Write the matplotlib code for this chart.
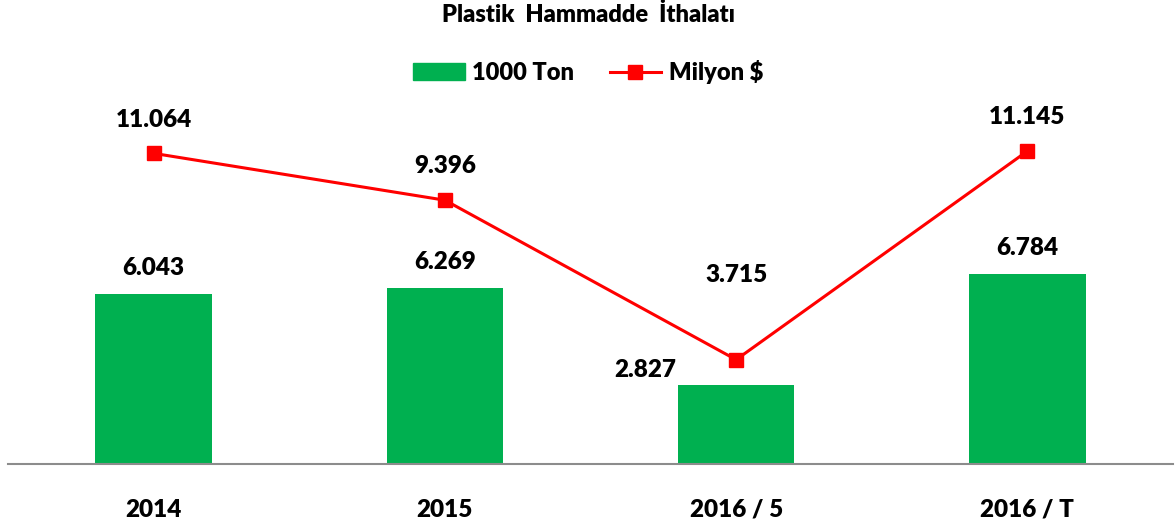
import numpy as np
import matplotlib.pyplot as plt
from matplotlib.patches import Patch
from matplotlib.lines import Line2D

plt.rcParams['font.family'] = ['Lato', 'DejaVu Sans']
W = 800

# DATA
categories = ['2014', '2015', '2016 / 5', '2016 / T']
ton_1000 = [6.043, 6.269, 2.827, 6.784]
milyon_usd = [11.064, 9.396, 3.715, 11.145]
ton_labels = ['6.043', '6.269', '2.827', '6.784']
usd_labels = ['11.064', '9.396', '3.715', '11.145']

GREEN = '#00B050'
RED = '#FF0000'

fig = plt.figure(figsize=(11.76, 5.29), dpi=100)
ax = fig.add_axes([8 / 1176, 1 - 464 / 529, 1165 / 1176, 365 / 529])

x = np.arange(len(categories))
ax.bar(x, ton_1000, width=0.4, color=GREEN, zorder=2)
ax.plot(x, milyon_usd, color=RED, lw=2.2, marker='s', markersize=10, zorder=3)

# bar labels (2016/5 sits to the left)
bar_offsets = [(0, 26), (0, 26), (-91, 15), (0, 26)]
for xi, v, lab, off in zip(x, ton_1000, ton_labels, bar_offsets):
    ax.annotate(lab, (xi, v), xytext=off, textcoords='offset pixels',
                ha='center', va='center', fontsize=17.5, fontweight=W)

line_offsets = [(0, 33), (0, 34), (0, 85), (0, 34)]
for xi, v, lab, off in zip(x, milyon_usd, usd_labels, line_offsets):
    ax.annotate(lab, (xi, v), xytext=off, textcoords='offset pixels',
                ha='center', va='center', fontsize=17.5, fontweight=W)

ax.set_xlim(-0.5, 3.5)
ax.set_ylim(0, 13)
ax.set_yticks([])
ax.set_xticks(x)
ax.set_xticklabels(categories, fontsize=17.5, fontweight=W)
ax.tick_params(axis='x', length=0, pad=25)
for s in ['top', 'right', 'left']:
    ax.spines[s].set_visible(False)
ax.spines['bottom'].set_color('#8c8c8c')
ax.spines['bottom'].set_linewidth(1.5)

fig.text(0.5, 1 - 15 / 529, 'Plastik  Hammadde  İthalatı', ha='center', va='center',
         fontsize=17, fontweight=W)

handles = [Patch(color=GREEN), Line2D([], [], color=RED, lw=2.2, marker='s', markersize=10)]
fig.legend(handles, ['1000 Ton', 'Milyon $'], loc='center', bbox_to_anchor=(0.5, 1 - 72 / 529),
           ncol=2, frameon=False, prop={'size': 17, 'weight': W}, handlelength=2.2,
           handletextpad=0.3, columnspacing=1.5)

fig.savefig('out.png', dpi=100)
